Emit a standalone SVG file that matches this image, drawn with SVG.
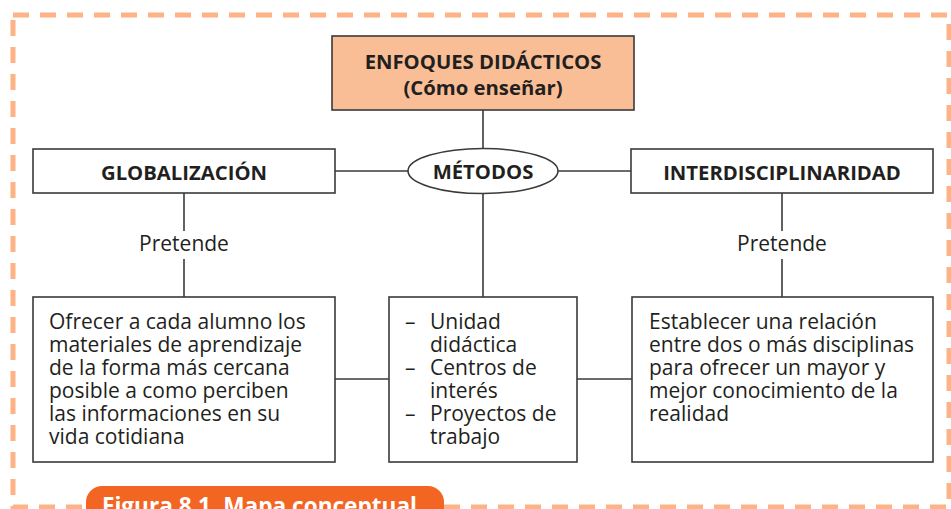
<svg xmlns="http://www.w3.org/2000/svg" width="951" height="509" viewBox="0 0 951 509">
  <style>
    .frame { fill: none; stroke: #FDB386; stroke-width: 5; stroke-dasharray: 16 11; }
    .box { fill: #FFFFFF; stroke: #3A3A3A; stroke-width: 1.6; }
    .top { fill: #F9BE96; stroke: #3A3A3A; stroke-width: 1.6; }
    .conn { stroke: #3A3A3A; stroke-width: 1.6; fill: none; }
    .h { font-family: "Open Sans", "Noto Sans", sans-serif; font-weight: bold; font-size: 20.3px; fill: #231F20; text-anchor: middle; }
    .t { font-family: "Open Sans", "Noto Sans", sans-serif; font-size: 21px; fill: #231F20; }
    .c { text-anchor: middle; }
    .tab { font-family: "Open Sans", "Noto Sans", sans-serif; font-weight: bold; font-size: 22.6px; fill: #FFFFFF; }
  </style>
  <rect width="951" height="509" fill="#FFFFFF"/>
  <rect class="frame" x="13" y="15" width="936" height="492"/>

  <g id="connectors">
    <line class="conn" x1="483" y1="110" x2="483" y2="148"/>
    <line class="conn" x1="335" y1="171" x2="408" y2="171"/>
    <line class="conn" x1="558" y1="171" x2="631" y2="171"/>
    <line class="conn" x1="483" y1="193" x2="483" y2="297"/>
    <line class="conn" x1="184" y1="193" x2="184" y2="231"/>
    <line class="conn" x1="184" y1="259" x2="184" y2="297"/>
    <line class="conn" x1="782" y1="193" x2="782" y2="231"/>
    <line class="conn" x1="782" y1="259" x2="782" y2="297"/>
    <line class="conn" x1="335" y1="379" x2="389" y2="379"/>
    <line class="conn" x1="577" y1="379" x2="632" y2="379"/>
    <text class="t c" x="184" y="251">Pretende</text>
    <text class="t c" x="782" y="251">Pretende</text>
  </g>

  <g id="enfoques">
    <rect class="top" x="332" y="36" width="302" height="74"/>
    <text class="h" x="483" y="69">ENFOQUES DIDÁCTICOS</text>
    <text class="h" x="483" y="95">(Cómo enseñar)</text>
  </g>

  <g id="metodos">
    <ellipse class="box" cx="483" cy="171" rx="75" ry="22.5"/>
    <text class="h" x="483" y="179">MÉTODOS</text>
  </g>

  <g id="globalizacion">
    <rect class="box" x="33" y="149" width="302" height="44"/>
    <text class="h" x="184" y="180">GLOBALIZACIÓN</text>
  </g>

  <g id="interdisciplinaridad">
    <rect class="box" x="631" y="149" width="302" height="44"/>
    <text class="h" x="782" y="180">INTERDISCIPLINARIDAD</text>
  </g>

  <g id="glob-text">
    <rect class="box" x="33" y="297" width="302" height="165"/>
    <text class="t" x="49" y="329">Ofrecer a cada alumno los</text>
    <text class="t" x="49" y="352">materiales de aprendizaje</text>
    <text class="t" x="49" y="375">de la forma más cercana</text>
    <text class="t" x="49" y="398">posible a como perciben</text>
    <text class="t" x="49" y="421">las informaciones en su</text>
    <text class="t" x="49" y="444">vida cotidiana</text>
  </g>

  <g id="metodos-list">
    <rect class="box" x="389" y="297" width="188" height="165"/>
    <text class="t" x="405" y="329">–</text>
    <text class="t" x="430" y="329">Unidad</text>
    <text class="t" x="430" y="352">didáctica</text>
    <text class="t" x="405" y="375">–</text>
    <text class="t" x="430" y="375">Centros de</text>
    <text class="t" x="430" y="398">interés</text>
    <text class="t" x="405" y="421">–</text>
    <text class="t" x="430" y="421">Proyectos de</text>
    <text class="t" x="430" y="444">trabajo</text>
  </g>

  <g id="inter-text">
    <rect class="box" x="632" y="297" width="301" height="165"/>
    <text class="t" x="649" y="329">Establecer una relación</text>
    <text class="t" x="649" y="352">entre dos o más disciplinas</text>
    <text class="t" x="649" y="375">para ofrecer un mayor y</text>
    <text class="t" x="649" y="398">mejor conocimiento de la</text>
    <text class="t" x="649" y="421">realidad</text>
  </g>

  <g id="caption">
    <rect x="86" y="486" width="358" height="50" rx="16" fill="#F26522"/>
    <text class="tab" x="102" y="514">Figura 8.1. Mapa conceptual</text>
  </g>
</svg>
